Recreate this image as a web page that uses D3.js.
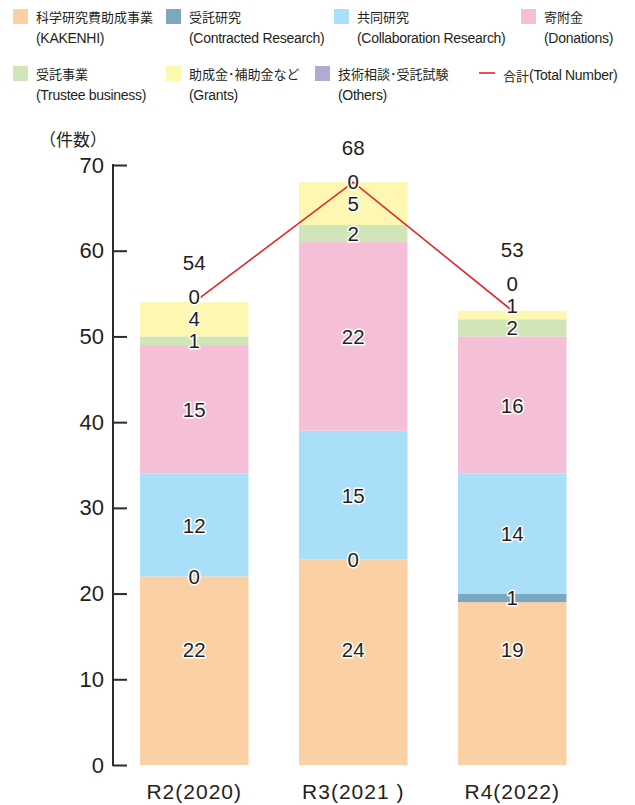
<!DOCTYPE html>
<html><head><meta charset="utf-8">
<script src="https://cdn.jsdelivr.net/npm/d3@7"></script>
<style>
body{margin:0;background:#fff;}
svg text{font-family:"Liberation Sans","Noto Sans CJK JP",sans-serif;fill:#231f20;}
</style></head><body>
<svg id="c" width="635" height="805"></svg>
<script>
// ---- data ----
const categories = ["R2(2020)", "R3(2021 )", "R4(2022)"];
const seriesKeys = ["kakenhi","contracted","collaboration","donations","trustee","grants","others"];
const seriesNamesJa = ["科学研究費助成事業","受託研究","共同研究","寄附金","受託事業","助成金･補助金など","技術相談･受託試験"];
const seriesNamesEn = ["(KAKENHI)","(Contracted Research)","(Collaboration Research)","(Donations)","(Trustee business)","(Grants)","(Others)"];
const kakenhi       = [22, 24, 19];
const contracted    = [0, 0, 1];
const collaboration = [12, 15, 14];
const donations     = [15, 22, 16];
const trustee       = [1, 2, 2];
const grants        = [4, 5, 1];
const others        = [0, 0, 0];
const totals        = [54, 68, 53];
const totalNameJa = "合計";
const totalNameEn = "(Total Number)";
const yTicks = [0, 10, 20, 30, 40, 50, 60, 70];
const yUnit = "（件数）";

// ---- styles ----
const palette = ["#fcd0a5","#7ca8bd","#a9dff8","#f6bfd8","#d1e6b8","#fdf7b1","#b1aad4"];
const lineColor = "#e8242b";

const seriesValues = [kakenhi, contracted, collaboration, donations, trustee, grants, others];
const table = categories.map((c, i) => {
  const row = {cat: c};
  seriesKeys.forEach((k, j) => row[k] = seriesValues[j][i]);
  row.total = totals[i];
  return row;
});

const svg = d3.select("#c");
const x = d3.scaleBand().domain(categories).range([113, 593.5]).paddingInner(0.318).paddingOuter(0.17);
const y = d3.scaleLinear().domain([0, 70]).range([765, 165]);

const stack = d3.stack().keys(seriesKeys)(table);

// bars
const g = svg.append("g");
stack.forEach((layer, j) => {
  g.selectAll(null).data(layer).join("rect")
    .attr("x", d => x(d.data.cat))
    .attr("width", x.bandwidth())
    .attr("y", d => y(d[1]))
    .attr("height", d => y(d[0]) - y(d[1]))
    .attr("fill", palette[j]);
});

// axis
const axis = d3.axisLeft(y).tickValues(yTicks).tickSizeInner(-14).tickSizeOuter(0).tickPadding(9);
const ax = svg.append("g").attr("transform", "translate(113,0)").call(axis);
ax.selectAll("path,line").attr("stroke", "#2b2b2b").attr("stroke-width", 2);
ax.select(".domain").attr("d", `M0,${y(70)-1}V${y(0)+1}`);
ax.selectAll("text").attr("font-size", 22).attr("fill", "#231f20")
  .style("font-family", '"Liberation Sans",sans-serif');

svg.append("text").attr("x", 39).attr("y", 138).attr("dominant-baseline", "central")
  .attr("font-size", 17).style("font-family", '"Noto Sans CJK JP",sans-serif').text(yUnit);

// x labels
svg.selectAll(null).data(categories).join("text")
  .attr("x", d => x(d) + x.bandwidth() / 2)
  .attr("y", 791)
  .attr("text-anchor", "middle").attr("dominant-baseline", "central")
  .attr("font-size", 21).attr("letter-spacing", 1)
  .text(d => d);

// total line
const line = d3.line().x(d => x(d.cat) + x.bandwidth() / 2).y(d => y(d.total));
svg.append("path").datum(table).attr("d", line)
  .attr("fill", "none").attr("stroke", lineColor).attr("stroke-width", 1.6);

// segment labels with simple upward collision avoidance
const labels = [];
table.forEach((row, i) => {
  let prevY = Infinity;
  let lastY = null;
  stack.forEach((layer, j) => {
    const d = layer[i];
    const v = d[1] - d[0];
    let ly;
    if (j === 0) {
      ly = y(13.5);
    } else {
      ly = y((d[0] + d[1]) / 2);
      ly = Math.min(ly, prevY - 22);
    }
    prevY = ly;
    lastY = ly;
    labels.push({x: x(row.cat) + x.bandwidth() / 2, y: ly, t: v});
  });
  labels.push({x: x(row.cat) + x.bandwidth() / 2, y: lastY - 34, t: row.total, total: true});
});

svg.selectAll(null).data(labels).join("text")
  .attr("x", d => d.x).attr("y", d => d.y)
  .attr("text-anchor", "middle").attr("dominant-baseline", "central")
  .attr("font-size", 20.5)
  .attr("stroke", d => d.total ? "none" : "#fff").attr("stroke-width", 3)
  .attr("stroke-linejoin", "round").attr("paint-order", "stroke")
  .text(d => d.t);

// legend
const legendPos = [[13, 9], [166, 9], [334, 9], [521, 9], [13, 66], [166, 66], [315, 66]];
const lg = svg.append("g");
seriesKeys.forEach((k, j) => {
  const [lx, ly] = legendPos[j];
  lg.append("rect").attr("x", lx).attr("y", ly).attr("width", 15).attr("height", 15).attr("fill", palette[j]);
  lg.append("text").attr("x", lx + 23).attr("y", ly + 7.5).attr("dominant-baseline", "central")
    .attr("font-size", 13).style("font-family", '"Noto Sans CJK JP",sans-serif').text(seriesNamesJa[j]);
  lg.append("text").attr("x", lx + 23).attr("y", ly + 28.5).attr("dominant-baseline", "central")
    .attr("font-size", 14).attr("letter-spacing", -0.3).text(seriesNamesEn[j]);
});
lg.append("line").attr("x1", 479).attr("x2", 495).attr("y1", 73).attr("y2", 73)
  .attr("stroke", lineColor).attr("stroke-width", 1.6);
const tt = lg.append("text").attr("x", 503).attr("y", 74.5).attr("dominant-baseline", "central");
tt.append("tspan").attr("font-size", 13).style("font-family", '"Noto Sans CJK JP",sans-serif').text(totalNameJa);
tt.append("tspan").attr("font-size", 14).attr("letter-spacing", -0.3).text(totalNameEn);
</script>
</body></html>
